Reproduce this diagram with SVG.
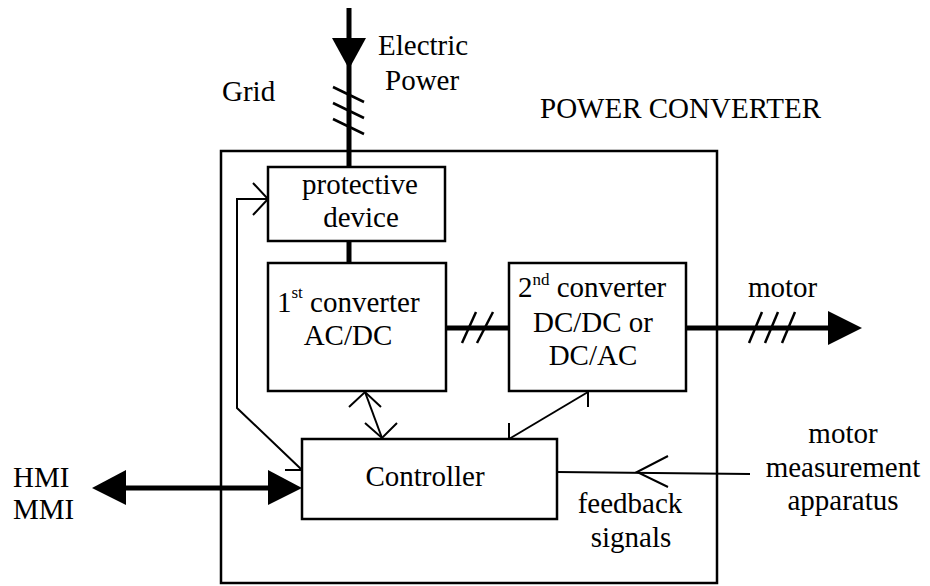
<svg xmlns="http://www.w3.org/2000/svg" width="930" height="586" viewBox="0 0 930 586">
<style>
text{font-family:"Liberation Serif","Times New Roman",serif;font-size:29px;fill:#000}
.m{text-anchor:middle}
.box{fill:#fff;stroke:#000;stroke-width:2.5}
.frame{fill:none;stroke:#000;stroke-width:2.5}
.thin{fill:none;stroke:#000;stroke-width:2}
.thick{fill:none;stroke:#000;stroke-width:5}
.sl{fill:none;stroke:#000;stroke-width:2.5}
.sup{font-size:17px}
</style>
<rect width="930" height="586" fill="#fff"/>
<g id="labels">
<text x="378" y="55">Electric</text>
<text x="385" y="90">Power</text>
<text x="222" y="101">Grid</text>
<text x="540" y="118">POWER CONVERTER</text>
<text x="13" y="487">HMI</text>
<text x="13" y="519">MMI</text>
<text x="748" y="297">motor</text>
<text class="m" x="843" y="443">motor</text>
<text class="m" x="843" y="477">measurement</text>
<text class="m" x="843" y="510">apparatus</text>
<text class="m" x="630" y="513">feedback</text>
<text class="m" x="631" y="547">signals</text>
</g>
<g id="power-converter"><rect class="frame" x="221" y="151" width="496" height="432"/></g>
<g id="connectors">
<line class="thick" x1="349" y1="8" x2="349" y2="168"/>
<polygon points="332,38 366,38 349,69" fill="#000"/>
<line class="sl" x1="333" y1="87" x2="364" y2="102"/>
<line class="sl" x1="333" y1="103" x2="364" y2="118"/>
<line class="sl" x1="333" y1="119" x2="364" y2="134"/>
<line class="thick" x1="349" y1="241" x2="349" y2="263"/>
<line class="thick" x1="446" y1="328" x2="509" y2="328"/>
<line class="sl" x1="462" y1="343" x2="476" y2="312"/>
<line class="sl" x1="477" y1="343" x2="493" y2="312"/>
<line class="thick" x1="686" y1="328" x2="830" y2="328"/>
<polygon points="828,311 862,328 828,345" fill="#000"/>
<line class="sl" x1="749" y1="343" x2="762" y2="312"/>
<line class="sl" x1="765" y1="343" x2="778" y2="312"/>
<line class="sl" x1="782" y1="343" x2="795" y2="312"/>
<line class="thick" x1="120" y1="488" x2="275" y2="488"/>
<polygon points="92,488 126,470 126,505" fill="#000"/>
<polygon points="302,488 268,470 268,505" fill="#000"/>
<polyline class="thin" points="302,470 237,408 237,199 268,199"/>
<polyline class="thin" points="253,183 268,199 253,215"/>
<line class="thin" x1="285" y1="470" x2="302" y2="470"/>
<line class="thin" x1="365" y1="392" x2="382" y2="438"/>
<polyline class="thin" points="349,407 365,392 381,407"/>
<polyline class="thin" points="365,423 382,438 397,423"/>
<line class="thin" x1="509" y1="439" x2="588" y2="392"/>
<line class="thin" x1="588" y1="392" x2="588" y2="407"/>
<line class="thin" x1="509" y1="439" x2="509" y2="423"/>
<line class="thin" x1="557" y1="472" x2="750" y2="474"/>
<polyline class="thin" points="668,456 637,472 668,487"/>
</g>
<g id="protective-device">
<rect class="box" x="268" y="167" width="177" height="74"/>
<text class="m" x="360" y="194">protective</text>
<text class="m" x="361" y="227">device</text>
</g>
<g id="first-converter">
<rect class="box" x="268" y="263" width="178" height="128"/>
<text x="277" y="312">1<tspan class="sup" dy="-14">st</tspan><tspan dy="14"> converter</tspan></text>
<text class="m" x="348" y="345">AC/DC</text>
</g>
<g id="second-converter">
<rect class="box" x="509" y="263" width="177" height="128"/>
<text x="518" y="297">2<tspan class="sup" dy="-12">nd</tspan><tspan dy="12"> converter</tspan></text>
<text class="m" x="593" y="332">DC/DC or</text>
<text class="m" x="593" y="365">DC/AC</text>
</g>
<g id="controller">
<rect class="box" x="302" y="439" width="255" height="80"/>
<text class="m" x="425" y="486">Controller</text>
</g>
</svg>
